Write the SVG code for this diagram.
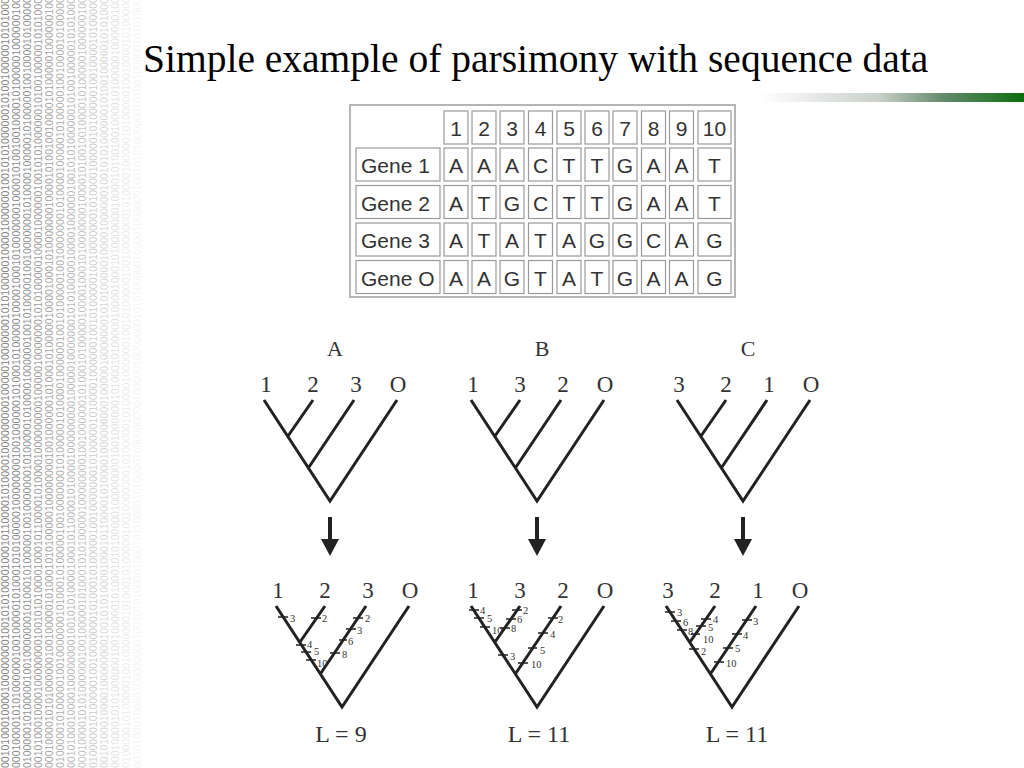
<svg xmlns="http://www.w3.org/2000/svg" xmlns:xlink="http://www.w3.org/1999/xlink" width="1024" height="768" viewBox="0 0 1024 768">
<style>
.title{font-family:"Liberation Serif","Times New Roman",serif;font-size:39.5px;fill:#000}
.bin{font-family:"Liberation Sans",Arial,sans-serif;font-size:10.5px;fill:#6e6e6e}
.cell{fill:#fff;stroke:#9a9a9a;stroke-width:1.2}
.ct{font-family:"Liberation Sans",Arial,sans-serif;font-size:21px;fill:#333;text-anchor:middle}
.lt{font-family:"Liberation Sans",Arial,sans-serif;font-size:21px;fill:#333}
.br{fill:none;stroke:#222;stroke-width:3}
.tk{stroke:#222;stroke-width:1.6}
.leaf{font-family:"Liberation Serif","Times New Roman",serif;font-size:23px;fill:#333;text-anchor:middle}
.tn{font-family:"Liberation Serif","Times New Roman",serif;font-size:22px;fill:#333;text-anchor:middle}
.mk{font-family:"Liberation Serif","Times New Roman",serif;font-size:10.5px;fill:#333}
.len{font-family:"Liberation Serif","Times New Roman",serif;font-size:24px;fill:#333;text-anchor:middle}
.arr{stroke:#222;stroke-width:4;fill:none}
</style>
<defs>
<linearGradient id="gbar" x1="760" y1="0" x2="1024" y2="0" gradientUnits="userSpaceOnUse">
<stop offset="0" stop-color="#ffffff"/>
<stop offset="0.45" stop-color="#c9d0c9"/>
<stop offset="0.7" stop-color="#62896a"/>
<stop offset="1" stop-color="#0d6d0d"/>
</linearGradient>
<marker id="ah" viewBox="0 -9 17 18" refX="0" refY="0" markerWidth="17" markerHeight="18" markerUnits="userSpaceOnUse" orient="auto">
<path d="M0,-9 L17,0 L0,9 z" fill="#222"/>
</marker>
<text id="b1" class="bin">0010100010000100000000100101010000100010110000101000010000000001000001000000010101000001000010000001001010100000010100100000101010000000100222222222222222</text>
<text id="b2" class="bin">0001000010101000000100100000101000101010000010000000010010000001010001010000010000100010100000001000010100100100001010000010000001000100122222222222222222</text>
<text id="b3" class="bin">0100000101000001001000000010100010100000100100000001010000010100001000000100101000001001000000010100001000001010000010010000101000000101002222222222222222</text>
</defs>
<rect width="1024" height="768" fill="#fff"/>
<g id="background">
<use href="#b1" transform="translate(9,768) rotate(-90)" opacity="0.85"/>
<use href="#b2" transform="translate(20,768) rotate(-90)" opacity="0.8"/>
<use href="#b3" transform="translate(31,768) rotate(-90)" opacity="0.74"/>
<use href="#b1" transform="translate(42,768) rotate(-90)" opacity="0.68"/>
<use href="#b2" transform="translate(53,768) rotate(-90)" opacity="0.62"/>
<use href="#b3" transform="translate(64,768) rotate(-90)" opacity="0.55"/>
<use href="#b1" transform="translate(75,768) rotate(-90)" opacity="0.48"/>
<use href="#b2" transform="translate(86,768) rotate(-90)" opacity="0.41"/>
<use href="#b3" transform="translate(97,768) rotate(-90)" opacity="0.34"/>
<use href="#b1" transform="translate(108,768) rotate(-90)" opacity="0.27"/>
<use href="#b2" transform="translate(119,768) rotate(-90)" opacity="0.2"/>
<use href="#b3" transform="translate(130,768) rotate(-90)" opacity="0.13"/>
<use href="#b1" transform="translate(141,768) rotate(-90)" opacity="0.07"/>
</g>
<g id="title">
<text class="title" x="143" y="72">Simple example of parsimony with sequence data</text>
<rect x="760" y="93" width="264" height="9" fill="url(#gbar)"/>
</g>
<g id="table">
<rect x="350" y="105" width="385" height="192" fill="#fff" stroke="#b5b5b5" stroke-width="2"/>
<g id="header">
<rect class="cell" x="444" y="111" width="24" height="33"/><text class="ct" x="456" y="136">1</text>
<rect class="cell" x="472" y="111" width="24" height="33"/><text class="ct" x="484" y="136">2</text>
<rect class="cell" x="500" y="111" width="24" height="33"/><text class="ct" x="512" y="136">3</text>
<rect class="cell" x="528.5" y="111" width="24" height="33"/><text class="ct" x="540.5" y="136">4</text>
<rect class="cell" x="557" y="111" width="24" height="33"/><text class="ct" x="569" y="136">5</text>
<rect class="cell" x="585" y="111" width="24" height="33"/><text class="ct" x="597" y="136">6</text>
<rect class="cell" x="613" y="111" width="24" height="33"/><text class="ct" x="625" y="136">7</text>
<rect class="cell" x="641.5" y="111" width="24" height="33"/><text class="ct" x="653.5" y="136">8</text>
<rect class="cell" x="669.5" y="111" width="24" height="33"/><text class="ct" x="681.5" y="136">9</text>
<rect class="cell" x="698" y="111" width="33" height="33"/><text class="ct" x="714.5" y="136">10</text>
</g>
<g id="row1">
<rect class="cell" x="356" y="148" width="84" height="33"/><text class="lt" x="361" y="173">Gene 1</text>
<rect class="cell" x="444" y="148" width="24" height="33"/><text class="ct" x="456" y="173">A</text>
<rect class="cell" x="472" y="148" width="24" height="33"/><text class="ct" x="484" y="173">A</text>
<rect class="cell" x="500" y="148" width="24" height="33"/><text class="ct" x="512" y="173">A</text>
<rect class="cell" x="528.5" y="148" width="24" height="33"/><text class="ct" x="540.5" y="173">C</text>
<rect class="cell" x="557" y="148" width="24" height="33"/><text class="ct" x="569" y="173">T</text>
<rect class="cell" x="585" y="148" width="24" height="33"/><text class="ct" x="597" y="173">T</text>
<rect class="cell" x="613" y="148" width="24" height="33"/><text class="ct" x="625" y="173">G</text>
<rect class="cell" x="641.5" y="148" width="24" height="33"/><text class="ct" x="653.5" y="173">A</text>
<rect class="cell" x="669.5" y="148" width="24" height="33"/><text class="ct" x="681.5" y="173">A</text>
<rect class="cell" x="698" y="148" width="33" height="33"/><text class="ct" x="714.5" y="173">T</text>
</g>
<g id="row2">
<rect class="cell" x="356" y="185.5" width="84" height="33"/><text class="lt" x="361" y="210.5">Gene 2</text>
<rect class="cell" x="444" y="185.5" width="24" height="33"/><text class="ct" x="456" y="210.5">A</text>
<rect class="cell" x="472" y="185.5" width="24" height="33"/><text class="ct" x="484" y="210.5">T</text>
<rect class="cell" x="500" y="185.5" width="24" height="33"/><text class="ct" x="512" y="210.5">G</text>
<rect class="cell" x="528.5" y="185.5" width="24" height="33"/><text class="ct" x="540.5" y="210.5">C</text>
<rect class="cell" x="557" y="185.5" width="24" height="33"/><text class="ct" x="569" y="210.5">T</text>
<rect class="cell" x="585" y="185.5" width="24" height="33"/><text class="ct" x="597" y="210.5">T</text>
<rect class="cell" x="613" y="185.5" width="24" height="33"/><text class="ct" x="625" y="210.5">G</text>
<rect class="cell" x="641.5" y="185.5" width="24" height="33"/><text class="ct" x="653.5" y="210.5">A</text>
<rect class="cell" x="669.5" y="185.5" width="24" height="33"/><text class="ct" x="681.5" y="210.5">A</text>
<rect class="cell" x="698" y="185.5" width="33" height="33"/><text class="ct" x="714.5" y="210.5">T</text>
</g>
<g id="row3">
<rect class="cell" x="356" y="223" width="84" height="33"/><text class="lt" x="361" y="248">Gene 3</text>
<rect class="cell" x="444" y="223" width="24" height="33"/><text class="ct" x="456" y="248">A</text>
<rect class="cell" x="472" y="223" width="24" height="33"/><text class="ct" x="484" y="248">T</text>
<rect class="cell" x="500" y="223" width="24" height="33"/><text class="ct" x="512" y="248">A</text>
<rect class="cell" x="528.5" y="223" width="24" height="33"/><text class="ct" x="540.5" y="248">T</text>
<rect class="cell" x="557" y="223" width="24" height="33"/><text class="ct" x="569" y="248">A</text>
<rect class="cell" x="585" y="223" width="24" height="33"/><text class="ct" x="597" y="248">G</text>
<rect class="cell" x="613" y="223" width="24" height="33"/><text class="ct" x="625" y="248">G</text>
<rect class="cell" x="641.5" y="223" width="24" height="33"/><text class="ct" x="653.5" y="248">C</text>
<rect class="cell" x="669.5" y="223" width="24" height="33"/><text class="ct" x="681.5" y="248">A</text>
<rect class="cell" x="698" y="223" width="33" height="33"/><text class="ct" x="714.5" y="248">G</text>
</g>
<g id="rowO">
<rect class="cell" x="356" y="260.5" width="84" height="33"/><text class="lt" x="361" y="285.5">Gene O</text>
<rect class="cell" x="444" y="260.5" width="24" height="33"/><text class="ct" x="456" y="285.5">A</text>
<rect class="cell" x="472" y="260.5" width="24" height="33"/><text class="ct" x="484" y="285.5">A</text>
<rect class="cell" x="500" y="260.5" width="24" height="33"/><text class="ct" x="512" y="285.5">G</text>
<rect class="cell" x="528.5" y="260.5" width="24" height="33"/><text class="ct" x="540.5" y="285.5">T</text>
<rect class="cell" x="557" y="260.5" width="24" height="33"/><text class="ct" x="569" y="285.5">A</text>
<rect class="cell" x="585" y="260.5" width="24" height="33"/><text class="ct" x="597" y="285.5">T</text>
<rect class="cell" x="613" y="260.5" width="24" height="33"/><text class="ct" x="625" y="285.5">G</text>
<rect class="cell" x="641.5" y="260.5" width="24" height="33"/><text class="ct" x="653.5" y="285.5">A</text>
<rect class="cell" x="669.5" y="260.5" width="24" height="33"/><text class="ct" x="681.5" y="285.5">A</text>
<rect class="cell" x="698" y="260.5" width="33" height="33"/><text class="ct" x="714.5" y="285.5">G</text>
</g>
</g>
<g id="treeA">
<text class="tn" x="335" y="356">A</text>
<text class="leaf" x="266" y="392">1</text><text class="leaf" x="313" y="392">2</text><text class="leaf" x="356" y="392">3</text><text class="leaf" x="398" y="392">O</text>
<path class="br" d="M264,400 L330,501 L397,400 M288,436 L313,400 M309,467 L354,400"/>
</g>
<g id="treeB" transform="translate(207,0)">
<text class="tn" x="335" y="356">B</text>
<text class="leaf" x="266" y="392">1</text><text class="leaf" x="313" y="392">3</text><text class="leaf" x="356" y="392">2</text><text class="leaf" x="398" y="392">O</text>
<path class="br" d="M264,400 L330,501 L397,400 M288,436 L313,400 M309,467 L354,400"/>
</g>
<g id="treeC" transform="translate(413,0)">
<text class="tn" x="335" y="356">C</text>
<text class="leaf" x="266" y="392">3</text><text class="leaf" x="313" y="392">2</text><text class="leaf" x="356" y="392">1</text><text class="leaf" x="398" y="392">O</text>
<path class="br" d="M264,400 L330,501 L397,400 M288,436 L313,400 M309,467 L354,400"/>
</g>
<g id="connectors">
<path class="arr" d="M330,517 L330,539" marker-end="url(#ah)"/>
<path class="arr" d="M537,517 L537,539" marker-end="url(#ah)"/>
<path class="arr" d="M743,517 L743,539" marker-end="url(#ah)"/>
</g>
<g id="treeA2">
<g transform="translate(12,206)">
<text class="leaf" x="266" y="392">1</text><text class="leaf" x="313" y="392">2</text><text class="leaf" x="356" y="392">3</text><text class="leaf" x="398" y="392">O</text>
<path class="br" d="M264,400 L330,501 L397,400 M288,436 L313,400 M309,467 L354,400"/>
</g>
<path class="tk" d="M278,617 L288,617 M311,618 L321,618 M296,645 L306,645 M301,652 L311,652 M306,660 L316,660 M353,618 L363,618 M346,629 L356,629 M339,640 L347,640 M330,653 L340,653"/>
<text class="mk" x="290" y="622">3</text>
<text class="mk" x="322" y="622">2</text>
<text class="mk" x="307" y="648">4</text>
<text class="mk" x="314" y="655">5</text>
<text class="mk" x="317" y="667">10</text>
<text class="mk" x="365" y="622">2</text>
<text class="mk" x="357" y="634">3</text>
<text class="mk" x="348" y="645">6</text>
<text class="mk" x="342" y="658">8</text>
<text class="len" x="341" y="742">L = 9</text>
</g>
<g id="treeB2">
<g transform="translate(207,206)">
<text class="leaf" x="266" y="392">1</text><text class="leaf" x="313" y="392">3</text><text class="leaf" x="356" y="392">2</text><text class="leaf" x="398" y="392">O</text>
<path class="br" d="M264,400 L330,501 L397,400 M288,436 L313,400 M309,467 L354,400"/>
</g>
<path class="tk" d="M469,610 L479,610 M474,618 L484,618 M480,627 L490,627 M512,610 L522,610 M506,619 L516,619 M500,628 L510,628 M498,655 L508,655 M548,618 L558,618 M538,633 L548,633 M528,648 L537,648 M518,663 L528,663"/>
<text class="mk" x="480" y="614">4</text>
<text class="mk" x="487" y="622">5</text>
<text class="mk" x="492" y="634">10</text>
<text class="mk" x="523" y="614">2</text>
<text class="mk" x="517" y="623">6</text>
<text class="mk" x="511" y="632">8</text>
<text class="mk" x="510" y="660">3</text>
<text class="mk" x="558" y="623">2</text>
<text class="mk" x="550" y="638">4</text>
<text class="mk" x="540" y="654">5</text>
<text class="mk" x="531" y="668">10</text>
<text class="len" x="539" y="742">L = 11</text>
</g>
<g id="treeC2">
<g transform="translate(402,206)">
<text class="leaf" x="266" y="392">3</text><text class="leaf" x="313" y="392">2</text><text class="leaf" x="356" y="392">1</text><text class="leaf" x="398" y="392">O</text>
<path class="br" d="M264,400 L330,501 L397,400 M288,436 L313,400 M309,467 L354,400"/>
</g>
<path class="tk" d="M665,612 L675,612 M671,621 L681,621 M677,630 L687,630 M701,619 L711,619 M696,626 L706,626 M691,634 L700,634 M689,649 L699,649 M742,620 L752,620 M732,634 L742,634 M723,648 L733,648 M714,662 L724,662"/>
<text class="mk" x="677" y="616">3</text>
<text class="mk" x="683" y="626">6</text>
<text class="mk" x="688" y="635">8</text>
<text class="mk" x="713" y="623">4</text>
<text class="mk" x="708" y="631">5</text>
<text class="mk" x="703" y="643">10</text>
<text class="mk" x="701" y="655">2</text>
<text class="mk" x="753" y="625">3</text>
<text class="mk" x="743" y="639">4</text>
<text class="mk" x="735" y="652">5</text>
<text class="mk" x="726" y="667">10</text>
<text class="len" x="737" y="742">L = 11</text>
</g>
</svg>
